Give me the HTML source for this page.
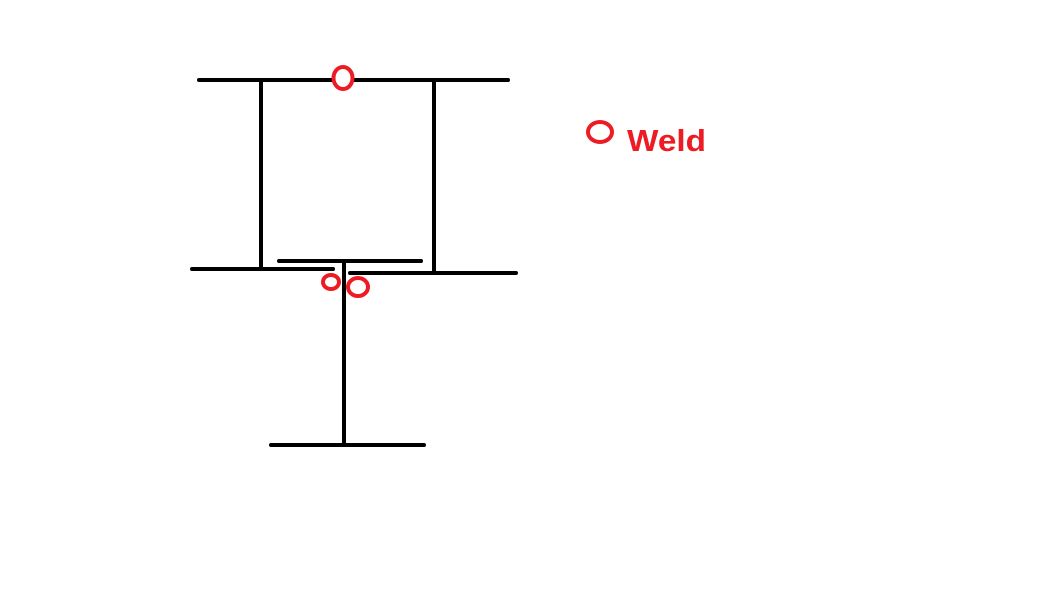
<!DOCTYPE html>
<html><head><style>body{margin:0;background:#fff}svg{display:block}</style></head><body>
<svg width="1050" height="596" xmlns="http://www.w3.org/2000/svg">
<g stroke="#000" stroke-width="4" stroke-linecap="round" fill="none">
<line x1="199" y1="80" x2="508" y2="80"/>
<line x1="261" y1="80" x2="261" y2="269"/>
<line x1="434" y1="80" x2="434" y2="272"/>
<line x1="192" y1="269" x2="333" y2="269"/>
<line x1="350" y1="273" x2="516" y2="273"/>
<line x1="279" y1="261" x2="421" y2="261"/>
<line x1="344" y1="263" x2="344" y2="445"/>
<line x1="271" y1="445" x2="424" y2="445"/>
</g>
<g stroke="#ed1c24" stroke-width="4" fill="#fff">
<ellipse cx="343" cy="78" rx="9.5" ry="11"/>
<ellipse cx="331" cy="282" rx="8" ry="7"/>
<ellipse cx="358" cy="287" rx="10" ry="9"/>
<ellipse cx="600" cy="132" rx="12" ry="10"/>
</g>
<text x="627" y="151" font-family="Liberation Sans, sans-serif" font-weight="bold" font-size="31" fill="#ed1c24" textLength="79" lengthAdjust="spacingAndGlyphs">Weld</text>
</svg>
</body></html>
